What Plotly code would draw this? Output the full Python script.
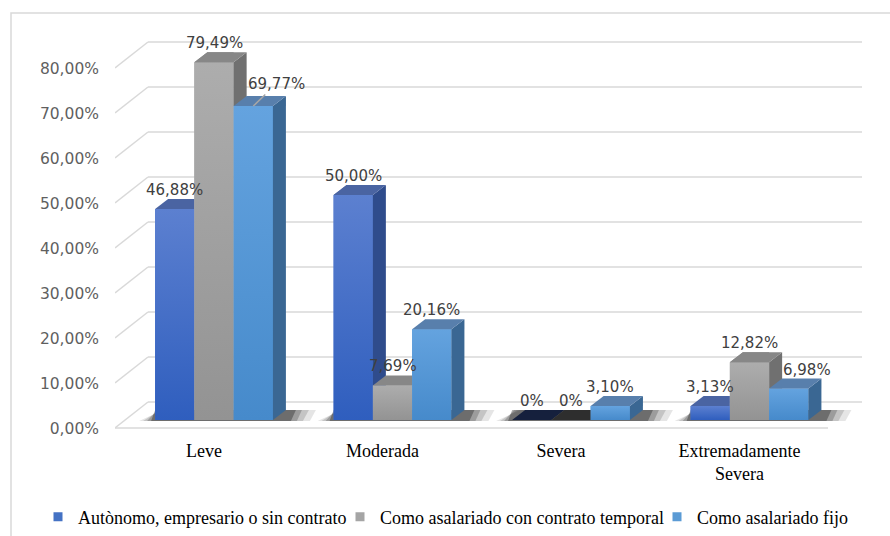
import plotly.graph_objects as go

# ---------------- data ----------------
categories = ["Leve", "Moderada", "Severa", "Extremadamente<br>Severa"]
series_names = ["Autònomo, empresario o sin contrato",
                "Como asalariado con contrato temporal",
                "Como asalariado fijo"]
autonomo = [46.88, 50.00, 0.0, 3.13]
temporal = [79.49, 7.69, 0.0, 12.82]
fijo = [69.77, 20.16, 3.10, 6.98]
y_tick_values = [0, 10, 20, 30, 40, 50, 60, 70, 80]
y_tick_labels = ["0,00%", "10,00%", "20,00%", "30,00%", "40,00%",
                 "50,00%", "60,00%", "70,00%", "80,00%"]

series_values = [autonomo, temporal, fijo]

# ---------------- style ----------------
legend_colors = ["#4472C4", "#A5A5A5", "#5B9BD5"]
front_colors = ["#4570C8", "#A0A0A0", "#5496D6"]
front_top = ["#5C80D0", "#ADADAD", "#64A3DF"]
front_bottom = ["#2F5EBE", "#939393", "#468ACB"]
side_colors = ["#2F4C8C", "#707070", "#3A6793"]
top_colors = ["#4A64A2", "#878787", "#587FAC"]
zero_top_colors = ["#15203D", "#2E2E2E", "#2E4A6E"]

W, H = 890, 536
ML, MR, MT, MB = 115, 10, 20, 98
PX_X = 178.5          # pixels per category unit
PX_Y = 4.5            # pixels per percent
X0_PX = 214           # pixel of first category centre
Y0_PX = 420           # pixel of 0 % in bar plane
plot_w = W - ML - MR
plot_h = H - MT - MB
xr = [(ML - X0_PX) / PX_X, (W - MR - X0_PX) / PX_X]
yr_top = (Y0_PX - MT) / PX_Y
yr = [yr_top - plot_h / PX_Y, yr_top]

def px_x(p):
    return (p - X0_PX) / PX_X

BAR_W = 0.22
OFFS = [-0.22, 0.0, 0.22]
DX = 13 / PX_X
DY = 10 / PX_Y

fig = go.Figure()

# ---------------- walls / gridlines ----------------
shapes = []
grid_col = "#D9D9D9"
xbl, xbr, xfl = px_x(148), px_x(862), px_x(115)
back_off = 18 / PX_Y
front_off = 8 / PX_Y
for v in y_tick_values:
    shapes.append(dict(type="line", xref="x", yref="y", x0=xbl, x1=xbr,
                       y0=v + back_off, y1=v + back_off,
                       line=dict(color=grid_col, width=1.5), layer="below"))
    shapes.append(dict(type="line", xref="x", yref="y", x0=xfl, x1=xbl,
                       y0=v - front_off, y1=v + back_off,
                       line=dict(color=grid_col, width=1.5), layer="below"))
shapes.append(dict(type="line", xref="x", yref="y", x0=xfl, x1=px_x(828),
                   y0=-front_off, y1=-front_off,
                   line=dict(color=grid_col, width=1.5), layer="below"))

# outer chart border
shapes.append(dict(type="rect", xref="paper", yref="paper",
                   x0=(11 - ML) / plot_w, x1=(W + 20 - ML) / plot_w,
                   y0=-(H + 20 - (H - MB)) / plot_h, y1=((H - MB) - 13) / plot_h,
                   line=dict(color="#D9D9D9", width=1.5), fillcolor="rgba(0,0,0,0)",
                   layer="below"))

# soft floor shadows (layered for a blurred look)
for i in range(len(categories)):
    gl = i + OFFS[0] - BAR_W / 2
    gr = i + OFFS[-1] + BAR_W / 2 + DX
    for (a, b, c, d, op) in [(16, 24, 30, 8, 0.10), (12, 17, 23, 5, 0.14),
                             (8, 11, 16, 2, 0.20), (4, 5, 10, 0, 0.30)]:
        path = "M {} {} L {} {} L {} {} L {} {} Z".format(
            gl - a / PX_X, -1 / PX_Y, gr + b / PX_X, -1 / PX_Y,
            gr + c / PX_X, DY, gl + d / PX_X, DY)
        shapes.append(dict(type="path", xref="x", yref="y", path=path,
                           fillcolor="rgba(0,0,0,{})".format(op),
                           line=dict(width=0), layer="below"))

# ---------------- front faces (bars) ----------------
for j, (name, vals) in enumerate(zip(series_names, series_values)):
    fig.add_trace(go.Bar(
        x=[i + OFFS[j] for i in range(len(categories))], y=vals, width=BAR_W,
        name=name, marker=dict(color=front_colors[j], line=dict(width=0)),
        showlegend=False, legendgroup=name, hoverinfo="skip"))

# legend keys (small square swatches like the original)
legend_w = [257, 272, 170]
for j, name in enumerate(series_names):
    fig.add_trace(go.Scatter(
        x=[None], y=[None], mode="markers", name=name, legendgroup=name,
        marker=dict(symbol="square", size=9, color=legend_colors[j]),
        legendwidth=legend_w[j], hoverinfo="skip"))

# ---------------- 3D side / top faces ----------------
def clip(poly, inside, inter):
    out = []
    n = len(poly)
    for k in range(n):
        p, q = poly[k], poly[(k + 1) % n]
        ip, iq = inside(p), inside(q)
        if ip:
            out.append(p)
            if not iq:
                out.append(inter(p, q))
        elif iq:
            out.append(inter(p, q))
    return out

def clip_x_le(poly, c):
    return clip(poly, lambda p: p[0] <= c + 1e-12,
                lambda p, q: (c, p[1] + (q[1] - p[1]) * (c - p[0]) / (q[0] - p[0])))

def clip_y_ge(poly, c):
    return clip(poly, lambda p: p[1] >= c - 1e-12,
                lambda p, q: (p[0] + (q[0] - p[0]) * (c - p[1]) / (q[1] - p[1]), c))

def add_poly(poly, color, gradient=None):
    if len(poly) < 3:
        return
    xs = [p[0] for p in poly] + [poly[0][0]]
    ys = [p[1] for p in poly] + [poly[0][1]]
    kw = dict(fillcolor=color)
    if gradient is not None:
        kw = dict(fillgradient=gradient)
    fig.add_trace(go.Scatter(x=xs, y=ys, mode="lines", fill="toself",
                             line=dict(width=0, color=color),
                             hoverinfo="skip", showlegend=False, **kw))

for i in range(len(categories)):
    for j in range(len(series_values)):
        v = series_values[j][i]
        x0 = i + OFFS[j] - BAR_W / 2
        x1 = i + OFFS[j] + BAR_W / 2
        # gradient shading of the bar's front face
        if v > 0:
            add_poly([(x0, 0), (x1, 0), (x1, v), (x0, v)], front_colors[j],
                     gradient=dict(type="vertical", start=0, stop=v,
                                   colorscale=[[0, front_bottom[j]], [1, front_top[j]]]))
        side = [(x1, 0), (x1 + DX, DY), (x1 + DX, v + DY), (x1, v)]
        top = [(x0, v), (x1, v), (x1 + DX, v + DY), (x0 + DX, v + DY)]
        tcol = top_colors[j] if v > 0 else zero_top_colors[j]
        faces = [(side, side_colors[j]), (top, tcol)]
        vn = series_values[j + 1][i] if j + 1 < len(series_values) else 0
        for poly, col in faces:
            if vn > 0:
                add_poly(clip_x_le(poly, x1), col)
                add_poly(clip_y_ge(poly, vn), col)
            else:
                add_poly(poly, col)

# ---------------- data labels ----------------
label_xshift = {(3, 2): 18}
label_font = dict(family="DejaVu Sans", size=15, color="#404040")
annotations = []
for j, vals in enumerate(series_values):
    for i, v in enumerate(vals):
        txt = "0%" if v == 0 else "{:.2f}%".format(v).replace(".", ",")
        xc = i + OFFS[j]
        if (i, j) == (0, 2):
            annotations.append(dict(x=xc, y=v, xref="x", yref="y", text=txt,
                                    showarrow=True, arrowhead=0, arrowwidth=1.5,
                                    arrowcolor="#A6A6A6", ax=23, ay=-22,
                                    standoff=0, font=label_font))
        else:
            annotations.append(dict(x=xc, y=v, xref="x", yref="y", text=txt,
                                    showarrow=False, yshift=19,
                                    xshift=label_xshift.get((i, j), 0),
                                    font=label_font))

fig.update_layout(
    width=W, height=H,
    margin=dict(l=ML, r=MR, t=MT, b=MB, autoexpand=False),
    paper_bgcolor="white", plot_bgcolor="white",
    barmode="overlay",
    shapes=shapes, annotations=annotations,
    xaxis=dict(range=xr, tickvals=list(range(len(categories))), ticktext=categories,
               showgrid=False, zeroline=False, showline=False, ticks="",
               ticklabelshift=-10, automargin=False,
               tickfont=dict(family="Liberation Serif", size=18, color="#000000")),
    yaxis=dict(range=yr, tickvals=y_tick_values, ticktext=y_tick_labels,
               showgrid=False, zeroline=False, showline=False, ticks="",
               ticklabelshift=9, ticklabelstandoff=15, automargin=False,
               tickfont=dict(family="DejaVu Sans", size=15.5, color="#5F5F5F")),
    legend=dict(orientation="h", x=(38 - ML) / plot_w, xanchor="left",
                y=-(517 - (H - MB)) / plot_h, yanchor="middle",
                font=dict(family="Liberation Serif", size=18, color="#000000"),
                bgcolor="rgba(0,0,0,0)", itemsizing="trace"),
    showlegend=True,
)

fig.write_html("out.html")
